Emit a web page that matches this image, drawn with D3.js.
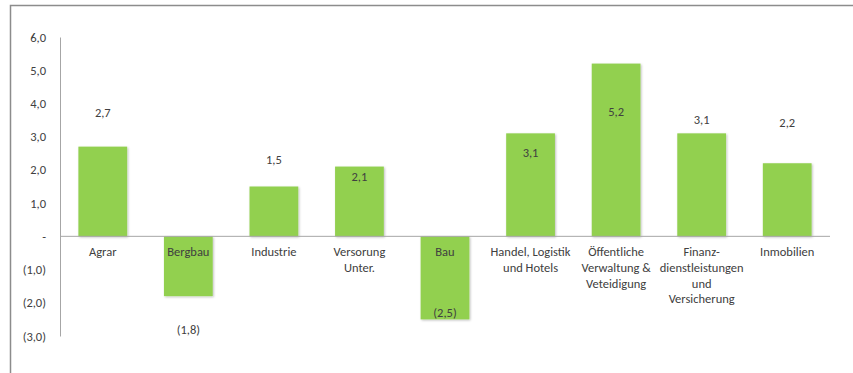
<!DOCTYPE html>
<html>
<head>
<meta charset="utf-8">
<script src="https://cdn.jsdelivr.net/npm/d3@7"></script>
<style>
	body { margin: 0; padding: 0; background: #fff; }
	svg text { font-family: Carlito, Lato, "Open Sans", sans-serif; fill: #404040; }
</style>
</head>
<body>
<div id="chart"></div>
<script>
'use strict';

// categories (line breaks as in the original)
var categories = [
	['Agrar'],
	['Bergbau'],
	['Industrie'],
	['Versorung', 'Unter.'],
	['Bau'],
	['Handel, Logistik', 'und Hotels'],
	['Öffentliche', 'Verwaltung &', 'Veteidigung'],
	['Finanz-', 'dienstleistungen', 'und', 'Versicherung'],
	['Inmobilien']
];

var values = [2.7, -1.8, 1.5, 2.1, -2.5, 3.1, 5.2, 3.1, 2.2];

// where the value labels sit, in chart units
var labelAt = [3.71, -2.82, 2.30, 1.79, -2.31, 2.51, 3.74, 3.50, 3.41];

var yTicks = [-3, -2, -1, 0, 1, 2, 3, 4, 5, 6];

var width = 853, height = 373;
var margin = { top: 37, right: 22, bottom: 37, left: 60 };
var fontSize = '12.5px';

function fmt (v)	{
	if (v === 0) { return '-'; }
	var s = Math.abs(v).toFixed(1).replace('.', ',');
	return v < 0 ? '(' + s + ')' : s;
}

var svg = d3.select('#chart').append('svg')
	.attr('width', width)
	.attr('height', height);

var defs = svg.append('defs');
var shadow = defs.append('filter')
	.attr('id', 'barshadow')
	.attr('x', '-10%').attr('y', '-10%')
	.attr('width', '130%').attr('height', '130%');
shadow.append('feDropShadow')
	.attr('dx', 1).attr('dy', 1)
	.attr('stdDeviation', 1)
	.attr('flood-color', '#000')
	.attr('flood-opacity', 0.25);

// outer frame (left and top visible)
svg.append('path')
	.attr('d', 'M10.5,' + height + 'V5.5H' + width)
	.attr('fill', 'none')
	.attr('stroke', '#8c8c8c')
	.attr('stroke-width', 1.5);

var x = d3.scaleBand()
	.domain(d3.range(categories.length))
	.range([margin.left, width - margin.right - 1])
	.paddingInner(0.43)
	.paddingOuter(0.215);

var y = d3.scaleLinear()
	.domain([-3, 6])
	.range([height - margin.bottom, margin.top]);

// y axis
var yaxis = d3.axisLeft(y)
	.tickValues(yTicks)
	.tickFormat(fmt)
	.tickSize(0)
	.tickPadding(14);

var yg = svg.append('g')
	.attr('transform', 'translate(' + margin.left + ',0)')
	.call(yaxis);
yg.select('.domain').attr('stroke', '#a6a6a6');
yg.selectAll('text').style('font-size', fontSize);

// bars
svg.append('g').selectAll('rect')
	.data(values)
	.enter().append('rect')
	.attr('x', function (d, i) { return x(i); })
	.attr('y', function (d) { return y(Math.max(0, d)); })
	.attr('width', x.bandwidth())
	.attr('height', function (d) { return Math.abs(y(d) - y(0)); })
	.attr('fill', '#92d050')
	.attr('filter', 'url(#barshadow)');

// zero line
svg.append('line')
	.attr('x1', margin.left)
	.attr('x2', width - margin.right - 1)
	.attr('y1', y(0))
	.attr('y2', y(0))
	.attr('stroke', '#a6a6a6')
	.attr('stroke-width', 1);

// category labels
var cat = svg.append('g').selectAll('text')
	.data(categories)
	.enter().append('text')
	.attr('text-anchor', 'middle')
	.attr('x', function (d, i) { return x(i) + x.bandwidth() / 2; })
	.attr('y', y(0) + 20)
	.style('font-size', fontSize);

cat.selectAll('tspan')
	.data(function (d) { return d; })
	.enter().append('tspan')
	.attr('x', function () { return this.parentNode.getAttribute('x'); })
	.attr('dy', function (d, i) { return i === 0 ? 0 : 15.7; })
	.text(function (d) { return d; });

// value labels
svg.append('g').selectAll('text')
	.data(values)
	.enter().append('text')
	.attr('text-anchor', 'middle')
	.attr('x', function (d, i) { return x(i) + x.bandwidth() / 2; })
	.attr('y', function (d, i) { return y(labelAt[i]); })
	.attr('dy', '0.35em')
	.style('font-size', fontSize)
	.text(fmt);
</script>
</body>
</html>
